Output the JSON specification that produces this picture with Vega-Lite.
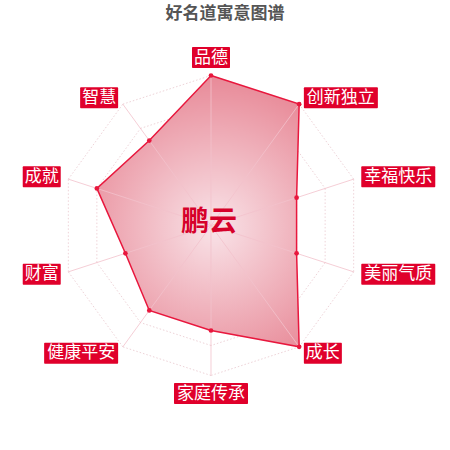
{
  "$schema": "https://vega.github.io/schema/vega-lite/v6.json",
  "description": "Name meaning radar chart for 鹏云.",
  "width": 450,
  "height": 425,
  "autosize": "none",
  "padding": {"top": 25, "left": 0, "right": 0, "bottom": 0},
  "background": "white",
  "config": {
    "view": {"stroke": null},
    "font": "Noto Sans CJK SC",
    "title": {"font": "Noto Sans CJK SC", "fontSize": 17}
  },
  "title": {
    "text": "好名道寓意图谱",
    "fontWeight": "bold",
    "color": "#555555",
    "anchor": "middle",
    "offset": 2
  },
  "data": {
    "values": [
      {"axis": "品德", "value": 100},
      {"axis": "创新独立", "value": 100},
      {"axis": "幸福快乐", "value": 60},
      {"axis": "美丽气质", "value": 60},
      {"axis": "成长", "value": 100},
      {"axis": "家庭传承", "value": 70},
      {"axis": "健康平安", "value": 70},
      {"axis": "财富", "value": 60},
      {"axis": "成就", "value": 80},
      {"axis": "智慧", "value": 70}
    ]
  },
  "transform": [
    {"window": [{"op": "row_number", "as": "i"}]},
    {"calculate": "0", "as": "zero"},
    {"calculate": "(datum.i - 1) * PI / 5", "as": "a"},
    {"calculate": "datum.i * PI / 5", "as": "a2"},
    {"calculate": "datum.value * 1.5 * sin(datum.a)", "as": "px"},
    {"calculate": "datum.value * 1.5 * cos(datum.a)", "as": "py"},
    {"calculate": "150 * sin(datum.a)", "as": "ox"},
    {"calculate": "150 * cos(datum.a)", "as": "oy"},
    {"calculate": "158 * sin(datum.a)", "as": "lx"},
    {"calculate": "158 * cos(datum.a)", "as": "ly"},
    {"calculate": "sin(datum.a) > 0.01 ? 'r' : sin(datum.a) < -0.01 ? 'l' : cos(datum.a) > 0 ? 't' : 'b'", "as": "side"},
    {"calculate": "length(datum.axis) * 18 + 2", "as": "w"},
    {"calculate": "datum.side == 'r' ? datum.lx : datum.side == 'l' ? datum.lx - datum.w : datum.lx - datum.w / 2", "as": "bx0"},
    {"calculate": "datum.bx0 + datum.w", "as": "bx1"},
    {"calculate": "(datum.bx0 + datum.bx1) / 2", "as": "tx"},
    {"calculate": "datum.side == 't' ? datum.ly + 10 : datum.side == 'b' ? datum.ly - 10 : datum.ly", "as": "cy"},
    {"calculate": "datum.cy - 10.5", "as": "by0"},
    {"calculate": "datum.cy + 10.5", "as": "by1"}
  ],
  "layer": [
    {
      "transform": [
        {"calculate": "[30, 60, 90, 120, 150]", "as": "lv"},
        {"flatten": ["lv"]},
        {"calculate": "datum.lv * sin(datum.a)", "as": "gx"},
        {"calculate": "datum.lv * cos(datum.a)", "as": "gy"},
        {"calculate": "datum.lv * sin(datum.a2)", "as": "gx2"},
        {"calculate": "datum.lv * cos(datum.a2)", "as": "gy2"}
      ],
      "mark": {"type": "rule", "color": "#eed3d8", "strokeWidth": 1, "strokeDash": [1.5, 2]},
      "encoding": {
        "x": {"field": "gx", "type": "quantitative", "scale": {"domain": [-211, 239]}, "axis": null},
        "y": {"field": "gy", "type": "quantitative", "scale": {"domain": [-224.5, 200.5]}, "axis": null},
        "x2": {"field": "gx2"},
        "y2": {"field": "gy2"}
      }
    },
    {
      "mark": {
        "type": "line",
        "interpolate": "linear-closed",
        "stroke": "#e8173d",
        "strokeWidth": 1.5,
        "fill": {
          "gradient": "radial",
          "x1": 0.56, "y1": 0.56, "r1": 0,
          "x2": 0.56, "y2": 0.56, "r2": 0.62,
          "stops": [
            {"offset": 0, "color": "#f9e3e8"},
            {"offset": 1, "color": "#e6808f"}
          ]
        }
      },
      "encoding": {
        "x": {"field": "px", "type": "quantitative", "scale": {"domain": [-211, 239]}, "axis": null},
        "y": {"field": "py", "type": "quantitative", "scale": {"domain": [-224.5, 200.5]}, "axis": null},
        "order": {"field": "i", "type": "quantitative"}
      }
    },
    {
      "mark": {"type": "rule", "color": "#f3c2cc", "strokeWidth": 1, "opacity": 0.8},
      "encoding": {
        "x": {"field": "zero", "type": "quantitative", "scale": {"domain": [-211, 239]}, "axis": null},
        "y": {"field": "zero", "type": "quantitative", "scale": {"domain": [-224.5, 200.5]}, "axis": null},
        "x2": {"field": "ox"},
        "y2": {"field": "oy"}
      }
    },
    {
      "mark": {"type": "circle", "color": "#e8173d", "opacity": 1, "size": 22},
      "encoding": {
        "x": {"field": "px", "type": "quantitative", "scale": {"domain": [-211, 239]}, "axis": null},
        "y": {"field": "py", "type": "quantitative", "scale": {"domain": [-224.5, 200.5]}, "axis": null}
      }
    },
    {
      "mark": {"type": "rect", "color": "#e0002b", "cornerRadius": 1},
      "encoding": {
        "x": {"field": "bx0", "type": "quantitative", "scale": {"domain": [-211, 239]}, "axis": null},
        "y": {"field": "by0", "type": "quantitative", "scale": {"domain": [-224.5, 200.5]}, "axis": null},
        "x2": {"field": "bx1"},
        "y2": {"field": "by1"}
      }
    },
    {
      "mark": {"type": "text", "color": "white", "fontSize": 17, "align": "center", "baseline": "middle"},
      "encoding": {
        "x": {"field": "tx", "type": "quantitative", "scale": {"domain": [-211, 239]}, "axis": null},
        "y": {"field": "cy", "type": "quantitative", "scale": {"domain": [-224.5, 200.5]}, "axis": null},
        "text": {"field": "axis"}
      }
    },
    {
      "transform": [{"filter": "datum.i == 1"}],
      "mark": {"type": "text", "color": "#d6002a", "fontSize": 28, "fontWeight": "bold", "align": "center", "baseline": "middle", "dx": -2, "dy": -3},
      "encoding": {
        "x": {"field": "zero", "type": "quantitative", "scale": {"domain": [-211, 239]}, "axis": null},
        "y": {"field": "zero", "type": "quantitative", "scale": {"domain": [-224.5, 200.5]}, "axis": null},
        "text": {"value": "鹏云"}
      }
    }
  ]
}
